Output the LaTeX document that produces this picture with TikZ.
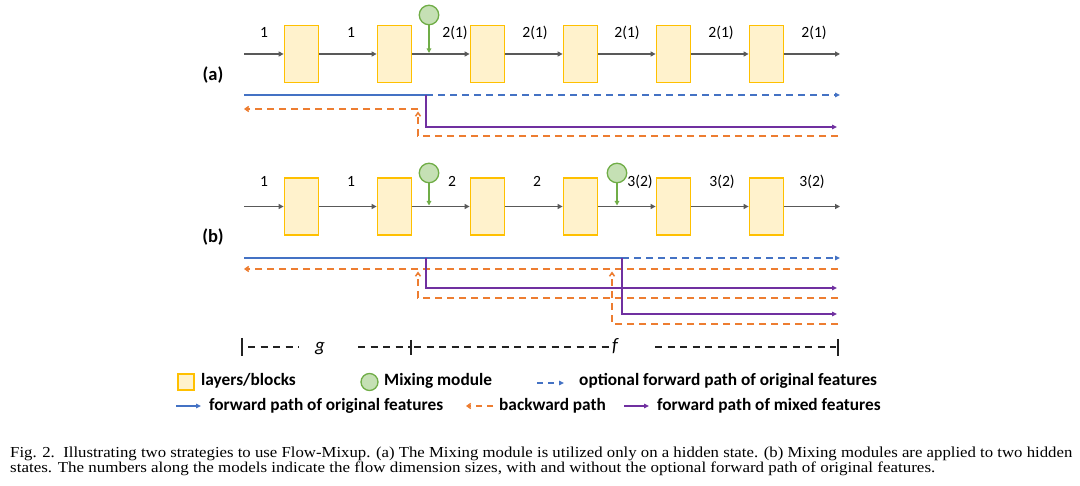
\documentclass[tikz,border=0pt]{standalone}
\usepackage{fontspec}
\usepackage{graphicx}
\setmainfont{Carlito}
\newfontfamily\capfont{Liberation Serif}
\usetikzlibrary{arrows.meta,calc}
\definecolor{blockfill}{HTML}{FFF2CC}
\definecolor{blockdraw}{HTML}{FFC000}
\definecolor{mixfill}{HTML}{C5E0B4}
\definecolor{mixdraw}{HTML}{70AD47}
\definecolor{fwdblue}{HTML}{4472C4}
\definecolor{bwdorange}{HTML}{ED7D31}
\definecolor{mixpurple}{HTML}{7030A0}
\definecolor{mainline}{HTML}{595959}
\definecolor{barcol}{HTML}{222222}
\begin{document}
\begin{tikzpicture}[x=1pt,y=-1pt,
  blockbox/.style={draw=blockdraw,fill=blockfill,line width=1.8pt,minimum width=34pt,minimum height=57pt,inner sep=0pt},
  mixnode/.style={circle,draw=mixdraw,fill=mixfill,line width=1.3pt,minimum size=19.5pt,inner sep=0pt},
  flowline/.style={draw=mainline,line width=1.6pt,-{Triangle[length=5pt,width=5pt]}},
  mixarrow/.style={draw=mixdraw,line width=1.4pt,-{Triangle[length=4.5pt,width=4.5pt]}},
  fwdpath/.style={draw=fwdblue,line width=1.5pt},
  optpath/.style={draw=fwdblue,line width=1.5pt,dash pattern=on 7pt off 5pt,-{Triangle[length=5pt,width=4.5pt]}},
  mixpath/.style={draw=mixpurple,line width=1.8pt,-{Triangle[length=5pt,width=4.5pt]}},
  bwdpath/.style={draw=bwdorange,line width=1.5pt,dash pattern=on 7pt off 5pt},
  bwdtip/.style={-{Straight Barb[length=3.5pt,width=5pt]}},
  lbl/.style={font=\fontsize{15.6}{18}\selectfont,inner sep=0pt,anchor=base},
  panel/.style={font=\bfseries\fontsize{18.5}{22}\selectfont,inner sep=0pt,anchor=base},
  legtxt/.style={font=\bfseries\fontsize{17.3}{20}\selectfont,inner sep=0pt,anchor=base west},
  bartxt/.style={font=\itshape\fontsize{19}{22}\selectfont,inner sep=0pt,anchor=base},
  bardash/.style={draw=barcol,line width=1.5pt,dash pattern=on 7pt off 5.5pt},
  bartick/.style={draw=barcol,line width=1.8pt},
  captxt/.style={inner sep=0pt,anchor=base west}
]
\useasboundingbox[fill=white] (0,0) rectangle (1080,486);

% ---------------- (a) ----------------
\foreach \i/\xx in {1/301.5,2/394.5,3/487.5,4/580.5,5/673.5,6/766.5}{
  \node[blockbox] (a\i) at (\xx,54) {};
}
\coordinate (astart) at (244,54);
\coordinate (aend) at (840,54);
\draw[flowline] (astart) -- (a1.west);
\draw[flowline] (a1.east) -- (a2.west);
\draw[flowline] (a2.east) -- (a3.west);
\draw[flowline] (a3.east) -- (a4.west);
\draw[flowline] (a4.east) -- (a5.west);
\draw[flowline] (a5.east) -- (a6.west);
\draw[flowline] (a6.east) -- (aend);

\node[mixnode] (amix) at (429,15) {};
\coordinate (amixin) at (429,53);
\draw[mixarrow] (amix.south) -- (amixin);

\node[lbl] (al1) at (264,37.5) {1};
\node[lbl] (al2) at (351,37.5) {1};
\node[lbl] (al3) at (455,37.5) {2(1)};
\node[lbl] (al4) at (535,37.5) {2(1)};
\node[lbl] (al5) at (627,37.5) {2(1)};
\node[lbl] (al6) at (721,37.5) {2(1)};
\node[lbl] (al7) at (814,37.5) {2(1)};
\node[panel] (apanel) at (213,81) {(a)};

\coordinate (abl) at (244,95);
\coordinate (abm) at (426,95);
\coordinate (abr) at (840,95);
\coordinate (apr) at (837,127);
\coordinate (ao1l) at (244,109);
\coordinate (ao1c) at (418,109);
\coordinate (ao1t) at (418,111.5);
\coordinate (ao2l) at (418,136);
\coordinate (ao2r) at (838,136);
\draw[fwdpath] (abl) -- (abm);
\draw[optpath] (abm) -- (abr);
\draw[mixpath] (abm) |- (apr);
\draw[bwdpath,bwdtip] (ao2r) -- (ao2l) -- (ao1t);
\draw[bwdpath,bwdtip] (ao1c) -- (ao1l);

% ---------------- (b) ----------------
\foreach \i/\xx in {1/301.5,2/394.5,3/487.5,4/580.5,5/673.5,6/766.5}{
  \node[blockbox] (b\i) at (\xx,206.5) {};
}
\coordinate (bstart) at (244,206.5);
\coordinate (bend) at (840,206.5);
\draw[flowline] (bstart) -- (b1.west);
\draw[flowline] (b1.east) -- (b2.west);
\draw[flowline] (b2.east) -- (b3.west);
\draw[flowline] (b3.east) -- (b4.west);
\draw[flowline] (b4.east) -- (b5.west);
\draw[flowline] (b5.east) -- (b6.west);
\draw[flowline] (b6.east) -- (bend);

\node[mixnode] (bmixa) at (429,173) {};
\node[mixnode] (bmixb) at (617,173) {};
\coordinate (bmixain) at (429,205.5);
\coordinate (bmixbin) at (617,205.5);
\draw[mixarrow] (bmixa.south) -- (bmixain);
\draw[mixarrow] (bmixb.south) -- (bmixbin);

\node[lbl] (bl1) at (264,186.5) {1};
\node[lbl] (bl2) at (351,186.5) {1};
\node[lbl] (bl3) at (452,186.5) {2};
\node[lbl] (bl4) at (537,186.5) {2};
\node[lbl] (bl5) at (640,186.5) {3(2)};
\node[lbl] (bl6) at (722,186.5) {3(2)};
\node[lbl] (bl7) at (812,186.5) {3(2)};
\node[panel] (bpanel) at (213,242.5) {(b)};

\coordinate (bbl) at (244,258);
\coordinate (bbm1) at (426,258);
\coordinate (bbm2) at (622,258);
\coordinate (bbr) at (840,258);
\coordinate (bpr1) at (837,288);
\coordinate (bpr2) at (837,314);
\coordinate (bo1l) at (244,269);
\coordinate (bo1r) at (838,269);
\coordinate (bo2r) at (838,298);
\coordinate (bo2l) at (418,298);
\coordinate (bo2t) at (418,271.5);
\coordinate (bo3r) at (838,324);
\coordinate (bo3l) at (612,324);
\coordinate (bo3t) at (612,271.5);
\draw[fwdpath] (bbl) -- (bbm2);
\draw[optpath] (bbm2) -- (bbr);
\draw[bwdpath,bwdtip] (bo1r) -- (bo1l);
\draw[bwdpath,bwdtip] (bo2r) -- (bo2l) -- (bo2t);
\draw[bwdpath,bwdtip] (bo3r) -- (bo3l) -- (bo3t);
\draw[mixpath] (bbm1) |- (bpr1);
\draw[mixpath] (bbm2) |- (bpr2);

% ---------------- scale bar ----------------
\coordinate (tl1) at (242,338);
\coordinate (tl2) at (242,356);
\coordinate (tm1) at (411,340);
\coordinate (tm2) at (411,355);
\coordinate (tr1) at (838,339);
\coordinate (tr2) at (838,356);
\draw[bartick] (tl1) -- (tl2);
\draw[bartick] (tm1) -- (tm2);
\draw[bartick] (tr1) -- (tr2);
\node[bartxt] (gsym) at (320,352) {g};
\node[bartxt] (fsym) at (615,352) {f};
\draw[bardash] (248,347) -- (299,347);
\draw[bardash] (358,347) -- (410,347);
\draw[bardash] (414,347) -- (609,347);
\draw[bardash] (655,347) -- (836,347);

% ---------------- legend ----------------
\node[draw=blockdraw,fill=blockfill,line width=1.6pt,minimum width=15.5pt,minimum height=16.5pt,inner sep=0pt] (legblock) at (186,382) {};
\node[legtxt] (legblocktxt) at (201,386) {layers/blocks};
\node[mixnode,minimum size=17pt] (legmix) at (369.5,382) {};
\node[legtxt] (legmixtxt) at (384,386) {Mixing module};
\coordinate (legopt1) at (537,383);
\coordinate (legopt2) at (564,383);
\draw[optpath,dash pattern=on 6pt off 5pt] (legopt1) -- (legopt2);
\node[legtxt] (legopttxt) at (579,386) {optional forward path of original features};

\coordinate (legfwd1) at (176,406);
\coordinate (legfwd2) at (201,406);
\draw[fwdpath,-{Triangle[length=5pt,width=4.5pt]}] (legfwd1) -- (legfwd2);
\node[legtxt] (legfwdtxt) at (209,410.5) {forward path of original features};
\coordinate (legbwd1) at (493,406);
\coordinate (legbwd2) at (466,406);
\draw[bwdpath,bwdtip,dash pattern=on 6pt off 5pt] (legbwd1) -- (legbwd2);
\node[legtxt] (legbwdtxt) at (499,410.5) {backward path};
\coordinate (legmx1) at (624,406);
\coordinate (legmx2) at (649,406);
\draw[mixpath] (legmx1) -- (legmx2);
\node[legtxt] (legmxtxt) at (657,410.5) {forward path of mixed features};

% ---------------- caption ----------------
\node[captxt] (cap1) at (10,457) {\resizebox{1062pt}{10.6pt}{\capfont\fontsize{15}{17}\selectfont Fig. 2.\ \ Illustrating two strategies to use Flow-Mixup. (a) The Mixing module is utilized only on a hidden state. (b) Mixing modules are applied to two hidden}};
\node[captxt] (cap2) at (10,473) {\resizebox{925pt}{10.6pt}{\capfont\fontsize{15}{17}\selectfont states. The numbers along the models indicate the flow dimension sizes, with and without the optional forward path of original features.}};
\end{tikzpicture}
\end{document}
